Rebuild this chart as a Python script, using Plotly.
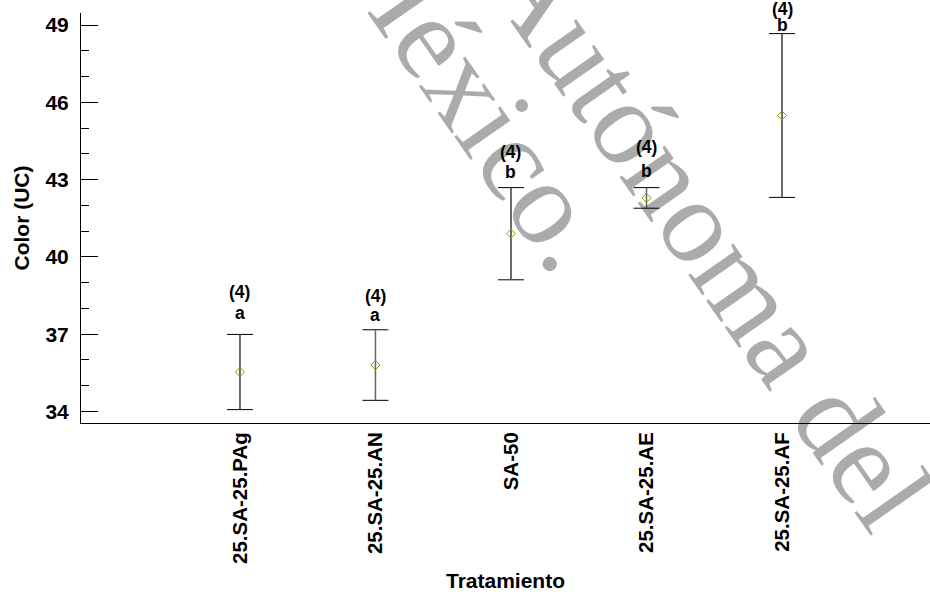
import plotly.graph_objects as go

# ---- data ----
categories = ["25.SA-25.PAg", "25.SA-25.AN", "SA-50", "25.SA-25.AE", "25.SA-25.AF"]
means = [35.53, 35.80, 40.90, 42.29, 45.49]
half_interval = [1.46, 1.37, 1.79, 0.40, 3.18]
counts = ["(4)", "(4)", "(4)", "(4)", "(4)"]
groups = ["a", "a", "b", "b", "b"]
y_tick_vals = [34, 37, 40, 43, 46, 49]

# label offsets (pixels above top whisker)
letter_shift = [21, 15, 16, 17, 9]
count_shift = [42, 34, 36, 41, 25]

x_pos = list(range(len(categories)))
tops = [m + h for m, h in zip(means, half_interval)]

FONT = "Liberation Sans, Arial, sans-serif"
WM_FONT = dict(family="Liberation Serif, Times New Roman, serif", size=120, color="rgba(0,0,0,0.33)")

fig = go.Figure()
# whiskers with black caps
fig.add_trace(go.Scatter(
    x=x_pos, y=means, mode="markers", marker=dict(size=1, opacity=0),
    error_y=dict(type="data", array=half_interval, visible=True, color="black", thickness=1, width=13),
    showlegend=False, hoverinfo="skip",
))
# grey stems + mean markers
fig.add_trace(go.Scatter(
    x=x_pos, y=means, mode="markers",
    marker=dict(symbol="diamond-open", size=7, color="#999900", line=dict(width=1, color="#999900")),
    error_y=dict(type="data", array=half_interval, visible=True, color="#666666", thickness=1.5, width=0),
    showlegend=False, hoverinfo="skip",
))

annotations = []
# watermark
annotations.append(dict(
    text="Universidad Autónoma del", xref="paper", yref="paper", x=0.5347, y=1.068,
    xanchor="center", yanchor="middle", textangle=55, showarrow=False, font=WM_FONT,
))
annotations.append(dict(
    text="Estado de México.", xref="paper", yref="paper", x=0.293, y=1.3035,
    xanchor="center", yanchor="middle", textangle=55, showarrow=False, font=WM_FONT,
))
for xi, t, c, g, ls, cs in zip(x_pos, tops, counts, groups, letter_shift, count_shift):
    annotations.append(dict(x=xi, y=t, text="<b>%s</b>" % g, showarrow=False, yshift=ls,
                            xanchor="center", yanchor="middle",
                            font=dict(family=FONT, size=17.5, color="black")))
    annotations.append(dict(x=xi, y=t, text="<b>%s</b>" % c, showarrow=False, yshift=cs,
                            xanchor="center", yanchor="middle",
                            font=dict(family=FONT, size=17.5, color="black")))

fig.update_layout(
    width=930, height=592,
    margin=dict(l=81, r=0, t=13, b=169),
    paper_bgcolor="white", plot_bgcolor="white",
    font=dict(family=FONT, color="black"),
    annotations=annotations,
    xaxis=dict(
        range=[-1.173, 5.092], tickvals=x_pos, ticktext=["<b>%s</b>" % c for c in categories],
        tickangle=-90, ticks="", showgrid=False, zeroline=False,
        showline=True, linecolor="black", linewidth=1,
        tickfont=dict(family=FONT, size=20.5, color="black"), ticklabelstandoff=0,
        title=dict(text="<b>Tratamiento</b>", font=dict(family=FONT, size=21, color="black"), standoff=10),
        automargin=False,
    ),
    yaxis=dict(
        range=[33.55, 49.47], tickvals=y_tick_vals, ticktext=["<b>%d</b>" % v for v in y_tick_vals],
        ticks="inside", ticklen=17, tickwidth=1, tickcolor="black",
        minor=dict(dtick=1, tick0=34, ticks="inside", ticklen=8, tickwidth=1, tickcolor="black", showgrid=False),
        showgrid=False, zeroline=False, showline=True, linecolor="black", linewidth=1,
        tickfont=dict(family=FONT, size=21, color="black"), ticklabelstandoff=7,
        title=dict(text="<b>Color (UC)</b>", font=dict(family=FONT, size=21, color="black"), standoff=10),
        automargin=False,
    ),
)

fig.write_html("out.html", config={"displayModeBar": False},
               post_script="document.body.style.margin='0px';document.body.style.overflow='hidden';")
